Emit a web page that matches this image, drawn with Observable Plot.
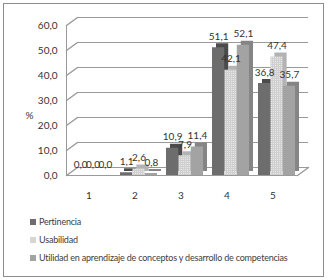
<!DOCTYPE html>
<html><head><meta charset="utf-8">
<script src="https://cdn.jsdelivr.net/npm/d3@7"></script>
<script src="https://cdn.jsdelivr.net/npm/@observablehq/plot@0.6"></script>
<style>
body{margin:0;background:#fff;font-family:Lato,"Open Sans",sans-serif;}
#frame{position:absolute;left:3px;top:3px;width:319px;height:272px;border:1px solid #8c8c8c;background:#fff;}
#chart{position:absolute;left:1px;top:1px;}
.leg{position:absolute;left:26px;font-size:9px;letter-spacing:-0.2px;color:#404040;white-space:nowrap;line-height:12px;}
.leg span{display:inline-block;width:6px;height:6px;margin-right:3px;vertical-align:0px;}
</style></head>
<body>
<div id="frame"><div id="chart"></div><div id="legend"></div></div>
<script>
const categories = ["1","2","3","4","5"];
const series = ["Pertinencia","Usabilidad","Utilidad en aprendizaje de conceptos y desarrollo de competencias"];
const pertinencia = [0.0, 1.1, 10.9, 51.1, 36.8];
const usabilidad = [0.0, 2.6, 7.9, 42.1, 47.4];
const utilidad = [0.0, 0.8, 11.4, 52.1, 35.7];
const yTicks = [0, 10, 20, 30, 40, 50, 60];

const frontColors = ["#6d6d6d", "url(#dots)", "#a3a3a3"];
const sideColors = ["#4b4b4b", "#b3b3b3", "#858585"];
const legendColors = ["#6d6d6d", "#d6d6d6", "#a3a3a3"];
const vals = [pertinencia, usabilidad, utilidad];

const xRange = [68, 291];
const band = d3.scaleBand().domain(categories).range(xRange).paddingInner(0.2).paddingOuter(0);
const bw = band.bandwidth() / 3;
const fmt = d => d.toFixed(1).replace(".", ",");

const line = {draw(ctx, l) { ctx.moveTo(0, 0); ctx.lineTo(0, -l); }};
const gridStroke = "#9a9a9a";

const barMarks = [];
series.forEach((s, j) => {
  const rows = categories.map((c, i) => ({cat: c, v: vals[j][i]}));
  const inset = {insetLeft: j * bw, insetRight: (2 - j) * bw};
  barMarks.push(Plot.barY(rows, {x: "cat", y: "v", fill: sideColors[j], dx: 4, dy: -4, ...inset}));
  barMarks.push(Plot.barY(rows, {x: "cat", y: "v", fill: frontColors[j], ...inset}));
});
const labelMarks = series.map((s, j) => Plot.text(categories.map((c, i) => ({cat: c, v: vals[j][i]})), {
  x: "cat", y: "v", text: d => fmt(d.v), dx: (j - 1) * bw, dy: -11, fontSize: 10, fill: "#333"
}));

const chart = Plot.plot({
  width: 318, height: 205,
  marginLeft: 61, marginRight: 26, marginTop: 20, marginBottom: 35,
  style: {fontFamily: "Lato, 'Open Sans', sans-serif", fontSize: "10px", color: "#333", background: "transparent", overflow: "visible"},
  x: {domain: categories, range: xRange, paddingInner: 0.2, paddingOuter: 0, axis: null},
  y: {domain: [0, 60], label: null, axis: null},
  marks: [
    Plot.ruleY(yTicks, {stroke: gridStroke, dx: 11, dy: -8}),
    Plot.vector(yTicks, {y: d => d, frameAnchor: "left", length: 13.6, rotate: 54, anchor: "start", shape: line, stroke: gridStroke}),
    Plot.vector([0], {y: d => d, frameAnchor: "right", length: 13.6, rotate: 54, anchor: "start", shape: line, stroke: gridStroke}),
    Plot.ruleY([0], {stroke: gridStroke}),
    Plot.frame({anchor: "left", stroke: gridStroke}),
    ...barMarks,
    ...labelMarks,
    Plot.axisY({ticks: yTicks, tickFormat: fmt, tickSize: 0, tickPadding: 9, fontSize: 10, label: null}),
    Plot.axisX({tickSize: 0, tickPadding: 16, dx: -4, fontSize: 10, label: null}),
    Plot.text(["%"], {frameAnchor: "left", dx: -41, dy: 15, fontSize: 10, fill: "#333"})
  ]
});
const ns = "http://www.w3.org/2000/svg";
const defs = document.createElementNS(ns, "defs");
defs.innerHTML = '<pattern id="dots" width="2" height="2" patternUnits="userSpaceOnUse"><rect width="2" height="2" fill="#cfcfcf"/><rect width="1" height="1" fill="#e8e8e8"/></pattern>';
chart.insertBefore(defs, chart.firstChild);
document.getElementById("chart").append(chart);

const legend = document.getElementById("legend");
const legendTops = [212, 230, 248];
series.forEach((s, j) => {
  const div = document.createElement("div");
  div.className = "leg";
  div.style.top = legendTops[j] + "px";
  div.innerHTML = `<span style="background:${legendColors[j]}"></span>${s}`;
  legend.append(div);
});
</script>
</body></html>
